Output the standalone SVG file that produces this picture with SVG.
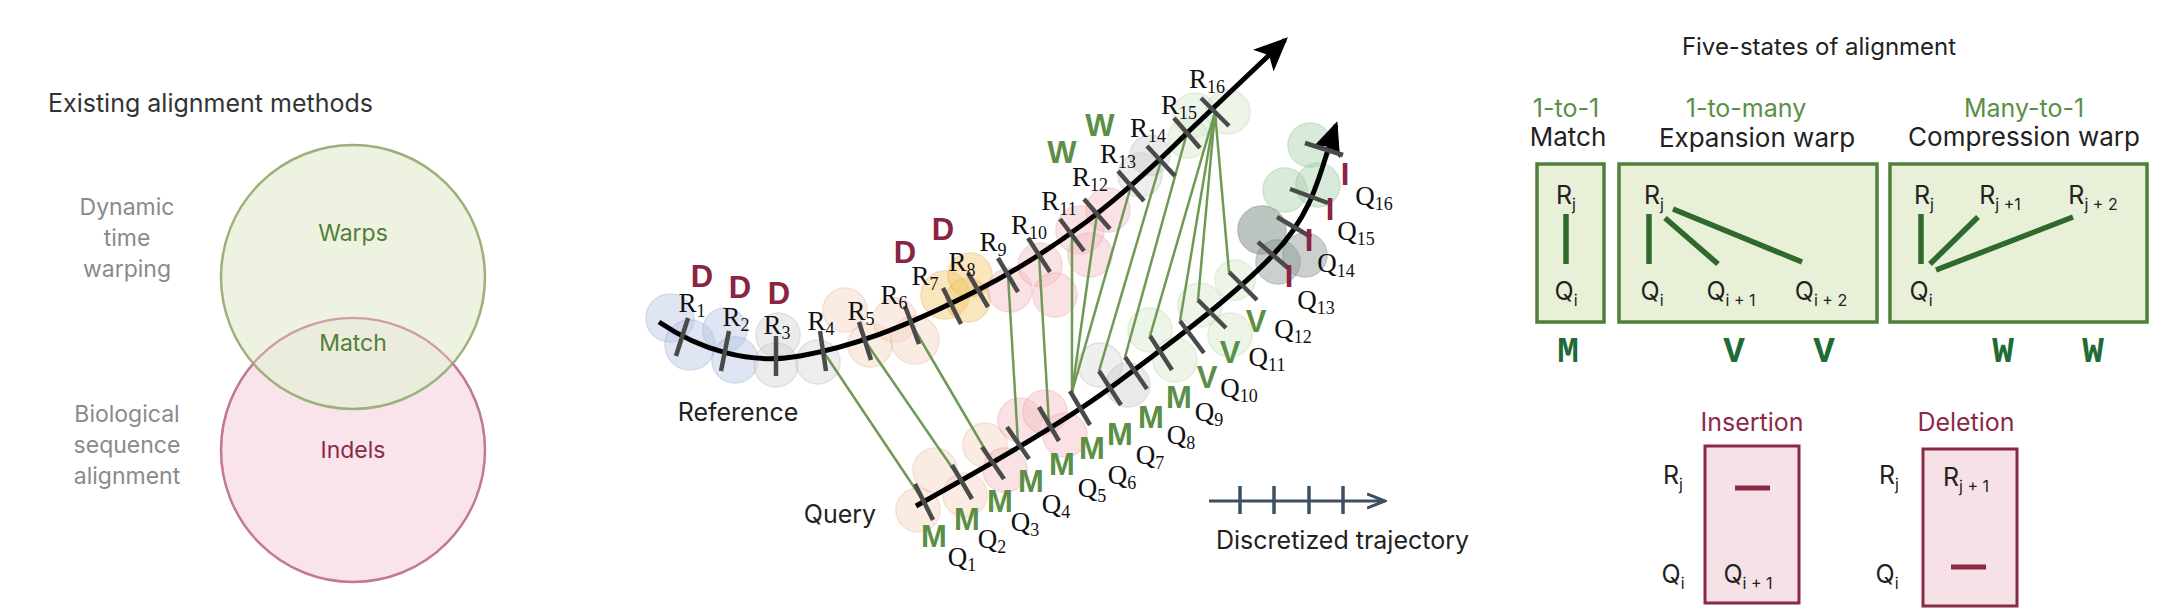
<svg xmlns="http://www.w3.org/2000/svg" width="2171" height="615" viewBox="0 0 2171 615">
<style>
.sans{font-family:"Inter","Liberation Sans",sans-serif}
.ser{font-family:"Liberation Serif",serif;font-size:27px;fill:#111;text-anchor:middle}
.ser tspan{font-size:18px}
.st{font-family:"Liberation Sans",sans-serif;font-weight:bold;font-size:31px;text-anchor:middle}
.g{fill:#5a8f45}.r{fill:#8b2343}
.tick{stroke:#4a4a4a;stroke-width:4.5}
.con{stroke:#6f9a55;stroke-width:2.5;fill:none}
.lab{font-family:"Inter","Liberation Sans",sans-serif;font-size:25px;fill:#222;text-anchor:middle}
.mono{font-family:"Liberation Mono",monospace;font-weight:bold;font-size:36px;fill:#1e6b35;text-anchor:middle}
.gbox{fill:#e9f0d8;stroke:#4f7f3a;stroke-width:3.5}
.rbox{fill:#f5e1e6;stroke:#8b2a47;stroke-width:3}
.gl{stroke:#2f6a2c;stroke-width:5.5;stroke-linecap:butt}
.blob{stroke-width:1.5;opacity:0.45}
</style>
<defs>
<marker id="ah" markerUnits="userSpaceOnUse" markerWidth="34" markerHeight="30" refX="30" refY="15" orient="auto"><path d="M0,0 L34,15 L0,30 L8,15 Z" fill="#000"/></marker>
<marker id="ah2" markerUnits="userSpaceOnUse" markerWidth="20" markerHeight="18" refX="18" refY="9" orient="auto"><path d="M0,2 L18,9 L0,16" fill="none" stroke="#3d4f60" stroke-width="3"/></marker>
</defs>

<g id="venn">
<text x="48" y="112" class="sans" font-size="25" fill="#333">Existing alignment methods</text>
<circle cx="353" cy="450" r="132" fill="#f8e4ea" stroke="#c27a8c" stroke-width="2.5"/>
<circle cx="353" cy="277" r="132" fill="#e7efd6" fill-opacity="0.75" stroke="#9bb07a" stroke-width="2.5"/>
<path d="M 221,450 A 132 132 0 0 1 485,450" fill="none" stroke="#c27a8c" stroke-width="2" opacity="0.6"/>
<g class="sans" font-size="23" fill="#8a8a8a" text-anchor="middle">
<text x="127" y="215">Dynamic</text><text x="127" y="246">time</text><text x="127" y="277">warping</text>
<text x="127" y="422">Biological</text><text x="127" y="453">sequence</text><text x="127" y="484">alignment</text>
</g>
<text x="353" y="241" class="sans" font-size="23" fill="#4f7f3a" text-anchor="middle">Warps</text>
<text x="353" y="351" class="sans" font-size="23" fill="#4f7f3a" text-anchor="middle">Match</text>
<text x="353" y="458" class="sans" font-size="23" fill="#8b2a47" text-anchor="middle">Indels</text>
</g>

<g id="blobs">
<circle cx="670" cy="318" r="24" fill="#b9c7e3" stroke="#9aaed3" class="blob"/>
<circle cx="690" cy="345" r="25" fill="#b9c7e3" stroke="#9aaed3" class="blob"/>
<circle cx="725" cy="330" r="22" fill="#b9c7e3" stroke="#9aaed3" class="blob"/>
<circle cx="735" cy="360" r="23" fill="#b9c7e3" stroke="#9aaed3" class="blob"/>
<circle cx="778" cy="335" r="22" fill="#d6d6d6" stroke="#bbb" class="blob"/>
<circle cx="776" cy="365" r="22" fill="#d6d6d6" stroke="#bbb" class="blob"/>
<circle cx="818" cy="362" r="22" fill="#d8d8d8" stroke="#bbb" class="blob"/>
<circle cx="845" cy="310" r="22" fill="#f6d5c3" stroke="#e8b9a0" class="blob"/>
<circle cx="870" cy="345" r="22" fill="#f6d5c3" stroke="#e8b9a0" class="blob"/>
<circle cx="895" cy="320" r="22" fill="#f6d5c3" stroke="#e8b9a0" class="blob"/>
<circle cx="915" cy="340" r="24" fill="#f6d5c3" stroke="#e8b9a0" class="blob"/>
<circle cx="945" cy="295" r="24" fill="#f2c96e" stroke="#e3b24f" class="blob"/>
<circle cx="968" cy="300" r="22" fill="#f2c96e" stroke="#e3b24f" class="blob"/>
<circle cx="970" cy="275" r="22" fill="#f2c96e" stroke="#e3b24f" class="blob"/>
<circle cx="1010" cy="290" r="22" fill="#f4c0c4" stroke="#e8a3a8" class="blob"/>
<circle cx="1040" cy="265" r="22" fill="#f4c0c4" stroke="#e8a3a8" class="blob"/>
<circle cx="1055" cy="295" r="22" fill="#f4c0c4" stroke="#e8a3a8" class="blob"/>
<circle cx="1080" cy="230" r="24" fill="#f4c0c4" stroke="#e8a3a8" class="blob"/>
<circle cx="1090" cy="255" r="22" fill="#f4c0c4" stroke="#e8a3a8" class="blob"/>
<circle cx="1108" cy="210" r="22" fill="#f4c0c4" stroke="#e8a3a8" class="blob"/>
<circle cx="1140" cy="175" r="22" fill="#d9d9d9" stroke="#bbb" class="blob"/>
<circle cx="1150" cy="155" r="20" fill="#cfcfcf" stroke="#bbb" class="blob"/>
<circle cx="1195" cy="115" r="22" fill="#d8ead0" stroke="#b9d8ad" class="blob"/>
<circle cx="1228" cy="112" r="22" fill="#d8ead0" stroke="#b9d8ad" class="blob"/>
<circle cx="1188" cy="138" r="20" fill="#d8ead0" stroke="#b9d8ad" class="blob"/>
<circle cx="918" cy="510" r="22" fill="#f6d5c3" stroke="#e8b9a0" class="blob"/>
<circle cx="935" cy="470" r="22" fill="#f6d5c3" stroke="#e8b9a0" class="blob"/>
<circle cx="965" cy="495" r="22" fill="#f6d5c3" stroke="#e8b9a0" class="blob"/>
<circle cx="985" cy="445" r="22" fill="#f6d5c3" stroke="#e8b9a0" class="blob"/>
<circle cx="1005" cy="470" r="22" fill="#f4c0c4" stroke="#e8a3a8" class="blob"/>
<circle cx="1020" cy="420" r="22" fill="#f4c0c4" stroke="#e8a3a8" class="blob"/>
<circle cx="1045" cy="412" r="22" fill="#f4c0c4" stroke="#e8a3a8" class="blob"/>
<circle cx="1065" cy="435" r="22" fill="#f4c0c4" stroke="#e8a3a8" class="blob"/>
<circle cx="1100" cy="365" r="22" fill="#dcdcdc" stroke="#bbb" class="blob"/>
<circle cx="1128" cy="385" r="22" fill="#d0d0d0" stroke="#bbb" class="blob"/>
<circle cx="1150" cy="330" r="22" fill="#d8ead0" stroke="#b9d8ad" class="blob"/>
<circle cx="1175" cy="360" r="22" fill="#d8ead0" stroke="#b9d8ad" class="blob"/>
<circle cx="1200" cy="305" r="22" fill="#d8ead0" stroke="#b9d8ad" class="blob"/>
<circle cx="1230" cy="335" r="22" fill="#d8ead0" stroke="#b9d8ad" class="blob"/>
<circle cx="1235" cy="280" r="20" fill="#d8ead0" stroke="#b9d8ad" class="blob"/>
<circle cx="1262" cy="230" r="24" fill="#6f7f78" stroke="#56645e" class="blob"/>
<circle cx="1278" cy="262" r="22" fill="#8a9892" stroke="#6f7f78" class="blob"/>
<circle cx="1305" cy="255" r="22" fill="#8a9892" stroke="#6f7f78" class="blob"/>
<circle cx="1285" cy="190" r="22" fill="#a9d2ad" stroke="#8fbf94" class="blob"/>
<circle cx="1318" cy="185" r="22" fill="#a9d2ad" stroke="#8fbf94" class="blob"/>
<circle cx="1310" cy="145" r="22" fill="#a9d2ad" stroke="#8fbf94" class="blob"/>
</g>

<g id="connectors">
<line class="con" x1="823" y1="351" x2="924" y2="502"/>
<line class="con" x1="865" y1="341" x2="962" y2="482"/>
<line class="con" x1="912" y1="325" x2="993" y2="463"/>
<line class="con" x1="1008" y1="275" x2="1018" y2="443"/>
<line class="con" x1="1039" y1="255" x2="1049" y2="424"/>
<line class="con" x1="1072" y1="235" x2="1072" y2="392"/>
<line class="con" x1="1097" y1="214" x2="1072" y2="392"/>
<line class="con" x1="1131" y1="186" x2="1072" y2="392"/>
<line class="con" x1="1161" y1="161" x2="1099" y2="371"/>
<line class="con" x1="1187" y1="133" x2="1125" y2="357"/>
<line class="con" x1="1215" y1="112" x2="1150" y2="336"/>
<line class="con" x1="1215" y1="112" x2="1180" y2="321"/>
<line class="con" x1="1215" y1="112" x2="1198" y2="300"/>
<line class="con" x1="1215" y1="112" x2="1229" y2="272"/>
</g>

<g id="reference">
<path d="M 659,322 C 700,350 750,365 800,356 S 900,330 978,290 S 1120,200 1187,133 L 1285,40" fill="none" stroke="#000" stroke-width="5" marker-end="url(#ah)"/>
<line class="tick" x1="676" y1="356" x2="688" y2="318"/>
<line class="tick" x1="721" y1="371" x2="729" y2="331"/>
<line class="tick" x1="776" y1="376" x2="776" y2="336"/>
<line class="tick" x1="826" y1="371" x2="820" y2="331"/>
<line class="tick" x1="871" y1="360" x2="859" y2="322"/>
<line class="tick" x1="919" y1="344" x2="905" y2="306"/>
<line class="tick" x1="961" y1="324" x2="943" y2="288"/>
<line class="tick" x1="988" y1="307" x2="968" y2="273"/>
<line class="tick" x1="1018" y1="292" x2="998" y2="258"/>
<line class="tick" x1="1050" y1="272" x2="1028" y2="238"/>
<line class="tick" x1="1084" y1="251" x2="1060" y2="219"/>
<line class="tick" x1="1110" y1="229" x2="1084" y2="199"/>
<line class="tick" x1="1144" y1="201" x2="1118" y2="171"/>
<line class="tick" x1="1175" y1="176" x2="1147" y2="146"/>
<line class="tick" x1="1200" y1="148" x2="1174" y2="118"/>
<line class="tick" x1="1229" y1="126" x2="1201" y2="98"/>
<g class="ser">
<text x="692" y="312">R<tspan dy="5">1</tspan></text>
<text x="736" y="326">R<tspan dy="5">2</tspan></text>
<text x="777" y="334">R<tspan dy="5">3</tspan></text>
<text x="821" y="330">R<tspan dy="5">4</tspan></text>
<text x="861" y="320">R<tspan dy="5">5</tspan></text>
<text x="894" y="304">R<tspan dy="5">6</tspan></text>
<text x="925" y="285">R<tspan dy="5">7</tspan></text>
<text x="962" y="271">R<tspan dy="5">8</tspan></text>
<text x="993" y="251">R<tspan dy="5">9</tspan></text>
<text x="1029" y="234">R<tspan dy="5">10</tspan></text>
<text x="1059" y="210">R<tspan dy="5">11</tspan></text>
<text x="1090" y="186">R<tspan dy="5">12</tspan></text>
<text x="1118" y="163">R<tspan dy="5">13</tspan></text>
<text x="1148" y="137">R<tspan dy="5">14</tspan></text>
<text x="1179" y="114">R<tspan dy="5">15</tspan></text>
<text x="1207" y="88">R<tspan dy="5">16</tspan></text>
</g>
<g class="st r">
<text x="702" y="287">D</text><text x="740" y="298">D</text><text x="779" y="304">D</text>
<text x="905" y="263">D</text><text x="943" y="240">D</text>
</g>
<g class="st g"><text x="1062" y="163">W</text><text x="1100" y="136">W</text></g>
<text x="738" y="421" class="sans" font-size="25" fill="#222" text-anchor="middle">Reference</text>
</g>

<g id="query">
<path d="M 916,506 C 980,470 1060,425 1110,388 S 1230,300 1273,255 S 1320,170 1336,125" fill="none" stroke="#000" stroke-width="5" marker-end="url(#ah)"/>
<line class="tick" x1="933" y1="520" x2="915" y2="484"/>
<line class="tick" x1="972" y1="499" x2="952" y2="465"/>
<line class="tick" x1="1004" y1="479" x2="982" y2="447"/>
<line class="tick" x1="1029" y1="459" x2="1007" y2="427"/>
<line class="tick" x1="1059" y1="441" x2="1039" y2="407"/>
<line class="tick" x1="1090" y1="425" x2="1070" y2="391"/>
<line class="tick" x1="1121" y1="405" x2="1099" y2="371"/>
<line class="tick" x1="1147" y1="389" x2="1125" y2="357"/>
<line class="tick" x1="1172" y1="370" x2="1150" y2="336"/>
<line class="tick" x1="1204" y1="353" x2="1180" y2="321"/>
<line class="tick" x1="1226" y1="328" x2="1198" y2="300"/>
<line class="tick" x1="1257" y1="300" x2="1229" y2="272"/>
<line class="tick" x1="1288" y1="268" x2="1258" y2="242"/>
<line class="tick" x1="1311" y1="237" x2="1277" y2="217"/>
<line class="tick" x1="1328" y1="203" x2="1290" y2="189"/>
<line class="tick" x1="1343" y1="155" x2="1305" y2="143"/>
<g class="ser">
<text x="962" y="566">Q<tspan dy="5">1</tspan></text>
<text x="992" y="548">Q<tspan dy="5">2</tspan></text>
<text x="1025" y="531">Q<tspan dy="5">3</tspan></text>
<text x="1056" y="513">Q<tspan dy="5">4</tspan></text>
<text x="1092" y="497">Q<tspan dy="5">5</tspan></text>
<text x="1122" y="484">Q<tspan dy="5">6</tspan></text>
<text x="1150" y="464">Q<tspan dy="5">7</tspan></text>
<text x="1181" y="444">Q<tspan dy="5">8</tspan></text>
<text x="1209" y="421">Q<tspan dy="5">9</tspan></text>
<text x="1239" y="397">Q<tspan dy="5">10</tspan></text>
<text x="1267" y="366">Q<tspan dy="5">11</tspan></text>
<text x="1293" y="338">Q<tspan dy="5">12</tspan></text>
<text x="1316" y="309">Q<tspan dy="5">13</tspan></text>
<text x="1336" y="272">Q<tspan dy="5">14</tspan></text>
<text x="1356" y="240">Q<tspan dy="5">15</tspan></text>
<text x="1374" y="205">Q<tspan dy="5">16</tspan></text>
</g>
<g class="st g">
<text x="934" y="547">M</text><text x="967" y="530">M</text><text x="1000" y="512">M</text>
<text x="1031" y="492">M</text><text x="1062" y="475">M</text><text x="1092" y="459">M</text>
<text x="1120" y="445">M</text><text x="1151" y="428">M</text><text x="1179" y="408">M</text>
<text x="1207" y="388">V</text><text x="1230" y="363">V</text><text x="1256" y="332">V</text>
</g>
<g class="st r">
<text x="1289" y="287">I</text><text x="1309" y="251">I</text><text x="1330" y="220">I</text><text x="1345" y="185">I</text>
</g>
<text x="840" y="523" class="sans" font-size="25" fill="#222" text-anchor="middle">Query</text>
</g>

<g id="legend-trajectory">
<line x1="1209" y1="501" x2="1385" y2="501" stroke="#3d4f60" stroke-width="3" marker-end="url(#ah2)"/>
<g stroke="#3d4f60" stroke-width="3.5">
<line x1="1240" y1="486" x2="1240" y2="514"/><line x1="1274" y1="486" x2="1274" y2="514"/>
<line x1="1309" y1="486" x2="1309" y2="514"/><line x1="1343" y1="486" x2="1343" y2="514"/>
</g>
<text x="1216" y="549" class="sans" font-size="25" fill="#222">Discretized trajectory</text>
</g>

<g id="five-states">
<text x="1819" y="55" class="sans" font-size="24" fill="#222" text-anchor="middle">Five-states of alignment</text>
</g>

<g id="match">
<text x="1566" y="117" class="sans" font-size="25" fill="#5a8f45" text-anchor="middle">1-to-1</text>
<text x="1568" y="146" class="sans" font-size="26" fill="#222" text-anchor="middle">Match</text>
<rect class="gbox" x="1537" y="164" width="67" height="158"/>
<text x="1566" y="204" class="lab">R<tspan dy="6" font-size="16">j</tspan></text>
<line class="gl" x1="1566" y1="214" x2="1566" y2="264"/>
<text x="1566" y="300" class="lab">Q<tspan dy="6" font-size="16">i</tspan></text>
<text x="1568" y="362" class="mono">M</text>
</g>

<g id="expansion">
<text x="1746" y="117" class="sans" font-size="25" fill="#5a8f45" text-anchor="middle">1-to-many</text>
<text x="1757" y="147" class="sans" font-size="26" fill="#222" text-anchor="middle">Expansion warp</text>
<rect class="gbox" x="1619" y="164" width="258" height="158"/>
<text x="1654" y="204" class="lab">R<tspan dy="6" font-size="16">j</tspan></text>
<line class="gl" x1="1649" y1="214" x2="1649" y2="264"/>
<line class="gl" x1="1665" y1="218" x2="1718" y2="264"/>
<line class="gl" x1="1673" y1="209" x2="1802" y2="262"/>
<text x="1652" y="300" class="lab">Q<tspan dy="6" font-size="16">i</tspan></text>
<text x="1731" y="300" class="lab">Q<tspan dy="6" font-size="16">i + 1</tspan></text>
<text x="1821" y="300" class="lab">Q<tspan dy="6" font-size="16">i + 2</tspan></text>
<text x="1734" y="362" class="mono">V</text>
<text x="1824" y="362" class="mono">V</text>
</g>

<g id="compression">
<text x="2024" y="117" class="sans" font-size="25" fill="#5a8f45" text-anchor="middle">Many-to-1</text>
<text x="2024" y="146" class="sans" font-size="26" fill="#222" text-anchor="middle">Compression warp</text>
<rect class="gbox" x="1890" y="164" width="257" height="158"/>
<text x="1924" y="204" class="lab">R<tspan dy="6" font-size="16">j</tspan></text>
<text x="2000" y="204" class="lab">R<tspan dy="6" font-size="16">j +1</tspan></text>
<text x="2093" y="204" class="lab">R<tspan dy="6" font-size="16">j + 2</tspan></text>
<line class="gl" x1="1921" y1="214" x2="1921" y2="264"/>
<line class="gl" x1="1930" y1="264" x2="1978" y2="217"/>
<line class="gl" x1="1936" y1="270" x2="2073" y2="217"/>
<text x="1921" y="300" class="lab">Q<tspan dy="6" font-size="16">i</tspan></text>
<text x="2003" y="362" class="mono">W</text>
<text x="2093" y="362" class="mono">W</text>
</g>

<g id="insertion">
<text x="1752" y="431" class="sans" font-size="25" fill="#8b2a47" text-anchor="middle">Insertion</text>
<rect class="rbox" x="1705" y="446" width="94" height="157"/>
<text x="1673" y="484" class="lab">R<tspan dy="6" font-size="16">j</tspan></text>
<text x="1673" y="583" class="lab">Q<tspan dy="6" font-size="16">i</tspan></text>
<line x1="1735" y1="488" x2="1770" y2="488" stroke="#8b2a47" stroke-width="5"/>
<text x="1748" y="583" class="lab">Q<tspan dy="6" font-size="16">i + 1</tspan></text>
</g>

<g id="deletion">
<text x="1966" y="431" class="sans" font-size="25" fill="#8b2a47" text-anchor="middle">Deletion</text>
<rect class="rbox" x="1923" y="449" width="94" height="157"/>
<text x="1889" y="484" class="lab">R<tspan dy="6" font-size="16">j</tspan></text>
<text x="1887" y="583" class="lab">Q<tspan dy="6" font-size="16">i</tspan></text>
<text x="1966" y="486" class="lab">R<tspan dy="6" font-size="16">j + 1</tspan></text>
<line x1="1951" y1="567" x2="1986" y2="567" stroke="#8b2a47" stroke-width="5"/>
</g>
</svg>
